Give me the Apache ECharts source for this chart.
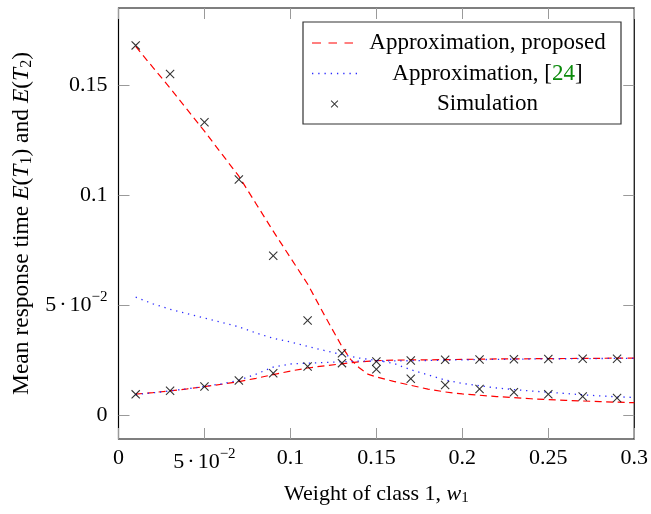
<!DOCTYPE html>
<html>
<head>
<meta charset="utf-8">
<script src="https://cdn.jsdelivr.net/npm/echarts@6/dist/echarts.min.js"></script>
<style>
  html, body { margin: 0; padding: 0; background: #fff; }
  #chart { width: 651px; height: 514px; }
</style>
</head>
<body>
<div id="chart"></div>
<script>
// Mean response times E(T1), E(T2) of the two classes against the weight w1 of class 1

// Tick positions and their labels ('sci' marks the 5·10^-2 label)
const xTicks = [0, 0.05, 0.1, 0.15, 0.2, 0.25, 0.3];
const xTickLabels = ['0', 'sci', '0.1', '0.15', '0.2', '0.25', '0.3'];
const yTicks = [0, 0.05, 0.1, 0.15];
const yTickLabels = ['0', 'sci', '0.1', '0.15'];

// Proposed approximation, class 1
const proposedT1W = [0.01, 0.02, 0.03, 0.04, 0.05, 0.06, 0.07, 0.08, 0.09, 0.10, 0.11, 0.12, 0.13, 0.135,
                     0.14, 0.145, 0.15, 0.155, 0.16, 0.17, 0.18, 0.19, 0.20, 0.22, 0.24, 0.26, 0.28, 0.30];
const proposedT1 = [0.1675, 0.158, 0.1486, 0.1388, 0.129, 0.1187, 0.1085, 0.096, 0.0835, 0.0715, 0.0595, 0.045, 0.031, 0.0252,
                    0.0214, 0.0185, 0.0172, 0.0162, 0.0152, 0.0134, 0.0117, 0.0104, 0.0095, 0.0083, 0.0073, 0.0066, 0.006, 0.0055];

// Proposed approximation, class 2
const proposedT2W = [0.01, 0.02, 0.03, 0.04, 0.05, 0.06, 0.07, 0.08, 0.09, 0.10, 0.11, 0.12, 0.13, 0.14,
                     0.15, 0.16, 0.18, 0.20, 0.22, 0.24, 0.26, 0.28, 0.30];
const proposedT2 = [0.0094, 0.0101, 0.0109, 0.0118, 0.0128, 0.0139, 0.0151, 0.0166, 0.0183, 0.0199, 0.0213, 0.0223, 0.0232, 0.0241,
                    0.0246, 0.0249, 0.025, 0.0252, 0.0254, 0.0255, 0.0256, 0.0257, 0.0258];

// Approximation of [24], class 1
const refT1W = [0.01, 0.02, 0.03, 0.04, 0.05, 0.06, 0.07, 0.08, 0.09, 0.10, 0.11, 0.12, 0.13, 0.14, 0.15,
                0.16, 0.17, 0.18, 0.19, 0.20, 0.21, 0.22, 0.23, 0.24, 0.25, 0.26, 0.27, 0.28, 0.29, 0.30];
const refT1 = [0.0535, 0.0505, 0.048, 0.046, 0.044, 0.042, 0.040, 0.0372, 0.0348, 0.0331, 0.0311, 0.0292, 0.0274, 0.0258, 0.0248,
               0.0234, 0.0205, 0.0182, 0.0158, 0.0143, 0.0132, 0.0122, 0.0115, 0.0108, 0.0103, 0.0097, 0.0091, 0.0086, 0.0082, 0.0079];

// Approximation of [24], class 2
const refT2W = [0.01, 0.02, 0.03, 0.04, 0.05, 0.06, 0.07, 0.08, 0.09, 0.10, 0.11, 0.12, 0.13, 0.14,
                0.16, 0.18, 0.20, 0.22, 0.24, 0.26, 0.28, 0.30];
const refT2 = [0.0092, 0.010, 0.0109, 0.0118, 0.0129, 0.0141, 0.0157, 0.0185, 0.0217, 0.0231, 0.0235, 0.0238, 0.0241, 0.0244,
               0.0245, 0.0247, 0.025, 0.0252, 0.0254, 0.0255, 0.0256, 0.0257];

// Simulation results
const simW = [0.01, 0.03, 0.05, 0.07, 0.09, 0.11, 0.13, 0.15, 0.17, 0.19, 0.21, 0.23, 0.25, 0.27, 0.29];
const simT1 = [0.168, 0.155, 0.133, 0.107, 0.0723, 0.0429, 0.028, 0.0207, 0.0164, 0.0136, 0.0117, 0.0103, 0.0094, 0.0083, 0.0076];
const simT2 = [0.0093, 0.0109, 0.0129, 0.0156, 0.0189, 0.022, 0.0235, 0.0242, 0.0247, 0.025, 0.0252, 0.0253, 0.0254, 0.0255, 0.0255];

const legendNames = ['Approximation, proposed', 'Approximation, [24]', 'Simulation'];

const FONT = '"Liberation Serif", "Times New Roman", serif';
const RED = '#ff0000';
const BLUE = '#2a2aff';
const pairs = (xs, ys) => xs.map((x, i) => [x, ys[i]]);

// thin "x" outline used as the simulation marker
const d = 0.85;
const CROSS = 'path://M0,' + d + 'L' + d + ',0L5,' + (5 - d) + 'L' + (10 - d) + ',0L10,' + d + 'L' + (5 + d) + ',5L10,' +
  (10 - d) + 'L' + (10 - d) + ',10L5,' + (5 + d) + 'L' + d + ',10L0,' + (10 - d) + 'L' + (5 - d) + ',5Z';

// legend samples: three dashes / a row of dots, 45 units wide
const DASH_ICON = 'path://M0,0h9v1.2h-9z M16.5,0h8.5v1.2h-8.5z M32.5,0h8.5v1.2h-8.5z M44.98,0h0.02v1.2h-0.02z';
let dotPath = 'path://';
for (let k = 0; k < 8; k++) {
  const x0 = k * 6.25;
  dotPath += 'M' + x0 + ',0h1.3v1.3h-1.3z ';
}
const DOT_ICON = dotPath.trim();

// rich styles for the 5·10^-2 tick label (raised exponent)
const sciRich = {
  m: { fontFamily: FONT, fontSize: 22, height: 22, lineHeight: 22, verticalAlign: 'middle', color: '#000' },
  d: { fontFamily: FONT, fontSize: 22, height: 22, lineHeight: 22, verticalAlign: 'middle', padding: [0, 3, 0, 3], color: '#000' },
  p: { fontFamily: FONT, fontSize: 15, height: 15, lineHeight: 31, verticalAlign: 'top', color: '#000' }
};
const SCI = '{m|5}{d|·}{m|10}{p|−2}';

function tickFormatter(ticks, labels) {
  return function (v) {
    let best = 0;
    ticks.forEach((t, i) => { if (Math.abs(t - v) < Math.abs(ticks[best] - v)) best = i; });
    const s = labels[best];
    return s === 'sci' ? SCI : s;
  };
}

// rich styles for axis titles with italic symbols and subscripts
function titleRich(size) {
  const sub = Math.round(size * 0.68);
  return {
    n: { fontFamily: FONT, fontSize: size, height: size, lineHeight: size + 1, verticalAlign: 'top', color: '#000' },
    i: { fontFamily: FONT, fontSize: size, height: size, lineHeight: size + 1, verticalAlign: 'top', fontStyle: 'italic', color: '#000' },
    s: { fontFamily: FONT, fontSize: sub, height: sub, lineHeight: sub, verticalAlign: 'bottom', color: '#000' }
  };
}

// legend text is centred in a fixed-width column
const LEGEND_FONT_SIZE = 23;
const LEGEND_COL = 251;
const canvas = document.createElement('canvas');
const ctx = canvas.getContext('2d');
ctx.font = LEGEND_FONT_SIZE + 'px ' + FONT;
const legendRich = {
  t: { fontFamily: FONT, fontSize: LEGEND_FONT_SIZE, lineHeight: LEGEND_FONT_SIZE, color: '#000' },
  g: { fontFamily: FONT, fontSize: LEGEND_FONT_SIZE, lineHeight: LEGEND_FONT_SIZE, color: '#0a8a0a' }
};
const legendText = {};
legendNames.forEach((name, k) => {
  const w = ctx.measureText(name).width;
  const lead = Math.max(0, (LEGEND_COL - w) / 2);
  legendRich['a' + k] = { width: lead, lineHeight: LEGEND_FONT_SIZE };
  legendRich['b' + k] = { width: Math.max(0, LEGEND_COL - w - lead), lineHeight: LEGEND_FONT_SIZE };
  let body;
  if (name.indexOf('[24]') >= 0) {
    body = '{t|' + name.replace('[24]', '[') + '}{g|24}{t|]}';
  } else {
    body = '{t|' + name + '}';
  }
  legendText[name] = '{a' + k + '| }' + body + '{b' + k + '| }';
});

const chart = echarts.init(document.getElementById('chart'), null, { renderer: 'canvas' });

const tickStyle = { show: true, inside: true, length: 11, lineStyle: { color: '#9a9a9a', width: 1 } };
const noLine = { show: false, onZero: false };

chart.setOption({
  animation: false,
  backgroundColor: '#fff',
  grid: {
    left: 118.5, right: 13.5, top: 8, bottom: 75,
    show: true, borderColor: '#000', borderWidth: 1.2, backgroundColor: 'transparent'
  },
  xAxis: [
    {
      type: 'value', position: 'bottom', min: 0, max: 0.3, interval: 0.05,
      axisLine: noLine,
      axisTick: tickStyle,
      splitLine: { show: false },
      axisLabel: {
        margin: 8, fontFamily: FONT, fontSize: 22, color: '#000',
        showMinLabel: true, showMaxLabel: true,
        formatter: tickFormatter(xTicks, xTickLabels), rich: sciRich
      },
      name: '{n|Weight of class 1, }{i|w}{s|1}',
      nameLocation: 'middle', nameGap: 44,
      nameTextStyle: { fontFamily: FONT, fontSize: 22, color: '#000', rich: titleRich(22) }
    },
    {
      type: 'value', position: 'top', min: 0, max: 0.3, interval: 0.05,
      axisLine: noLine,
      axisTick: tickStyle,
      splitLine: { show: false },
      axisLabel: { show: false }
    }
  ],
  yAxis: [
    {
      type: 'value', position: 'left', min: -0.011, max: 0.185,
      axisLine: noLine,
      axisTick: Object.assign({ customValues: yTicks }, tickStyle),
      splitLine: { show: false },
      axisLabel: {
        customValues: yTicks, margin: 11, fontFamily: FONT, fontSize: 22, color: '#000',
        formatter: tickFormatter(yTicks, yTickLabels), rich: sciRich
      },
      name: '{n|Mean response time }{i|E}{n|(}{i|T}{s|1}{n|) and }{i|E}{n|(}{i|T}{s|2}{n|)}',
      nameLocation: 'middle', nameGap: 78, nameRotate: 90,
      nameTextStyle: { fontFamily: FONT, fontSize: 23.5, color: '#000', rich: titleRich(23.5) }
    },
    {
      type: 'value', position: 'right', min: -0.011, max: 0.185,
      axisLine: noLine,
      axisTick: Object.assign({ customValues: yTicks }, tickStyle),
      splitLine: { show: false },
      axisLabel: { show: false }
    }
  ],
  legend: {
    orient: 'vertical', left: 303, top: 22,
    padding: [9.5, 8, 8.5, 9], itemGap: 7.5,
    itemWidth: 45, itemHeight: 7.5,
    borderColor: '#333', borderWidth: 1.2, backgroundColor: '#fff',
    selectedMode: false,
    data: [
      { name: legendNames[0], icon: DASH_ICON, itemStyle: { color: RED } },
      { name: legendNames[1], icon: DOT_ICON, itemStyle: { color: BLUE } },
      { name: legendNames[2] }
    ],
    textStyle: { fontFamily: FONT, fontSize: LEGEND_FONT_SIZE, color: '#000', rich: legendRich },
    formatter: name => legendText[name]
  },
  series: [
    {
      name: legendNames[0], type: 'line', symbol: 'none', z: 3,
      data: pairs(proposedT1W, proposedT1),
      itemStyle: { color: RED },
      lineStyle: { color: RED, width: 1.2, type: [7, 4.5] }
    },
    {
      name: legendNames[0], type: 'line', symbol: 'none', z: 3,
      data: pairs(proposedT2W, proposedT2),
      itemStyle: { color: RED },
      lineStyle: { color: RED, width: 1.2, type: [7, 4.5] }
    },
    {
      name: legendNames[1], type: 'line', symbol: 'none', z: 3,
      data: pairs(refT1W, refT1),
      itemStyle: { color: BLUE },
      lineStyle: { color: BLUE, width: 1.3, type: [1.3, 4.8] }
    },
    {
      name: legendNames[1], type: 'line', symbol: 'none', z: 3,
      data: pairs(refT2W, refT2),
      itemStyle: { color: BLUE },
      lineStyle: { color: BLUE, width: 1.3, type: [1.3, 4.8] }
    },
    {
      name: legendNames[2], type: 'scatter', symbol: CROSS, symbolSize: 9, z: 5,
      data: pairs(simW, simT1),
      itemStyle: { color: '#000' }
    },
    {
      name: legendNames[2], type: 'scatter', symbol: CROSS, symbolSize: 9, z: 5,
      data: pairs(simW, simT2),
      itemStyle: { color: '#000' }
    }
  ]
});
</script>
</body>
</html>
